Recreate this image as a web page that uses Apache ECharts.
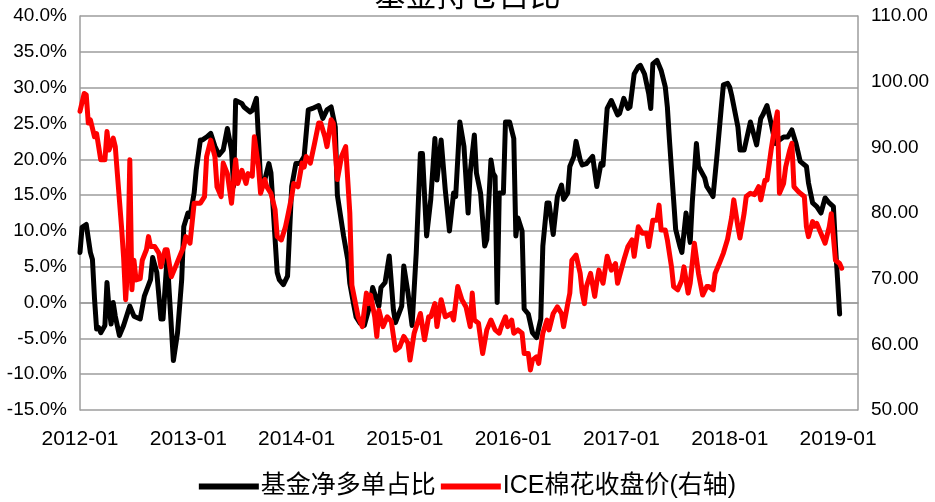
<!DOCTYPE html>
<html>
<head>
<meta charset="utf-8">
<title>基金持仓占比</title>
<script src="https://cdn.jsdelivr.net/npm/echarts@6/dist/echarts.min.js"></script>
<style>
  html, body { margin: 0; padding: 0; background: #ffffff; }
  #chart { width: 935px; height: 502px; }
</style>
</head>
<body>
<div id="chart"></div>
<script>
// Weekly observations, indexed by weeks elapsed since 2012-01-01.
const netLongWeeks = [0,1,3,5,6,7,8,9,10,12,13,14,15,16,17,19,21,24,26,29,31,34,35,37,39,40,42,43,45,47,49,50,52,53,55,56,58,59,61,63,65,67,69,71,73,74,75,78,79,82,83,85,87,89,91,92,95,96,98,100,102,104,106,108,110,112,115,117,119,121,123,124,127,129,130,132,133,135,137,140,141,144,145,147,149,151,152,155,156,158,160,162,164,165,167,169,171,172,174,176,178,180,181,183,185,187,188,190,191,193,195,196,198,199,200,201,202,204,205,207,209,210,211,213,214,216,218,220,222,223,225,226,228,230,232,233,235,236,238,239,241,242,244,247,249,251,252,254,256,259,260,262,264,265,267,269,270,272,274,275,276,278,280,282,283,284,286,287,289,290,292,294,295,297,298,301,302,304,305,307,309,310,312,313,314,317,318,320,323,325,326,328,329,331,333,335,336,339,341,343,345,347,350,351,353,355,357,359,361,363,364,365,366];
// Fund net-long share, in percent.
const netLongShare = [7.0,10.5,10.9,7.0,6.0,0.5,-3.7,-3.5,-4.2,-3.2,2.8,-0.9,-3.0,0.0,-1.9,-4.6,-3.2,-0.5,-1.9,-2.3,0.9,3.2,6.3,4.2,-2.3,-2.3,6.5,1.4,-8.1,-4.2,3.2,10.6,12.5,12.0,15.3,18.5,22.7,22.7,23.1,23.6,21.8,20.6,21.3,24.3,21.3,16.2,28.2,27.8,27.3,26.6,26.8,28.5,17.1,17.1,19.4,18.1,4.2,3.2,2.5,3.7,16.2,19.4,19.4,20.4,26.9,27.1,27.5,25.7,26.9,27.3,24.5,15.0,9.3,6.0,2.7,-0.5,-2.0,-2.9,-3.2,0.0,2.1,-0.5,2.1,2.8,6.5,-1.0,-2.8,-0.5,5.1,1.4,-3.2,6.9,20.8,20.8,9.3,14.4,22.9,17.1,22.7,15.7,10.0,15.3,14.8,25.2,21.8,12.5,18.1,23.4,18.1,15.3,7.9,8.8,19.9,18.1,17.6,0.0,15.3,15.3,25.2,25.2,22.9,9.3,11.8,10.0,-0.9,-1.6,-4.2,-4.9,-2.3,7.9,13.9,13.9,9.5,14.8,16.4,14.4,15.3,19.0,20.4,22.5,19.9,19.2,19.4,20.4,16.2,19.4,19.2,27.1,28.2,26.2,26.4,28.5,27.1,27.3,31.9,32.9,33.1,31.9,29.2,27.1,33.3,33.8,32.4,30.1,27.3,22.7,14.4,10.2,7.9,7.0,12.5,8.4,14.0,22.2,19.0,17.4,16.2,15.3,14.8,20.8,27.3,30.4,30.6,30.1,28.9,24.5,21.3,21.3,25.2,23.1,22.0,25.7,26.2,27.5,25.0,22.2,22.5,23.1,23.1,24.1,22.2,19.7,19.0,16.7,13.9,13.4,12.5,14.6,13.9,13.4,7.9,3.2,-1.6];

const cottonWeeks = [0,2,3,4,5,7,8,10,12,13,14,16,17,18,20,21,22,23,24,25,26,27,29,30,32,33,34,36,38,39,41,42,44,46,47,50,51,53,55,58,60,61,63,65,66,68,69,71,73,75,76,78,80,81,83,84,86,87,89,90,92,94,95,97,99,100,102,103,105,107,108,109,111,113,115,116,118,119,121,122,124,126,128,130,131,134,136,138,139,140,142,143,144,146,148,150,152,154,156,158,159,161,164,166,168,169,171,172,174,176,179,180,182,184,186,188,189,190,192,194,196,198,200,202,203,205,206,208,209,211,213,214,216,217,218,220,221,223,225,226,228,230,232,233,235,236,237,239,241,242,243,244,246,248,249,250,252,254,256,258,259,262,264,266,267,269,271,273,274,276,278,279,280,282,283,285,286,288,290,291,293,294,296,298,300,302,303,305,306,308,310,312,314,315,317,318,320,321,323,325,327,328,330,331,333,335,336,337,339,340,342,343,344,346,347,349,350,351,353,354,355,357,359,361,362,364,366,367];
// ICE cotton settlement price (right axis).
const cottonClose = [95.5,98.2,98.0,93.7,94.2,91.6,92.1,88.1,88.1,92.4,89.6,91.4,90.1,86.0,77.9,73.3,66.8,71.8,88.1,68.3,72.8,69.8,70.0,72.8,74.4,76.4,74.9,74.9,73.9,71.8,74.4,74.4,70.3,71.8,72.6,74.9,76.4,75.4,81.5,81.5,82.5,88.6,91.1,88.6,84.0,82.5,87.6,86.0,81.5,88.1,84.5,86.5,84.5,86.0,85.6,91.6,87.0,83.0,85.1,84.0,83.0,80.5,76.4,75.9,77.9,79.4,82.5,84.5,84.0,87.6,87.0,88.6,87.6,90.6,93.7,93.7,91.6,90.1,94.2,93.7,85.1,88.6,90.1,80.0,69.0,64.2,62.7,67.8,66.2,67.5,64.2,61.2,65.2,62.7,64.2,63.5,59.1,59.6,61.2,60.2,57.6,61.7,64.7,60.7,64.2,64.2,66.2,62.7,66.8,64.2,64.7,63.7,68.8,66.8,65.7,62.7,67.8,63.7,63.2,58.6,62.2,63.7,62.2,61.7,62.7,64.2,62.7,63.7,61.7,62.2,61.7,58.6,58.6,56.1,57.6,58.1,57.1,61.7,63.7,62.2,64.7,65.7,64.7,62.7,66.2,67.8,72.8,73.6,70.8,67.8,66.2,68.8,70.8,67.3,69.5,71.3,69.3,73.4,71.3,72.3,69.3,72.8,74.9,75.9,73.4,77.9,76.9,76.9,74.9,78.9,78.9,81.2,77.4,77.4,75.9,71.8,68.8,68.3,69.8,71.8,67.8,69.3,75.4,70.8,67.5,68.8,68.8,68.3,70.8,72.3,73.9,76.0,79.4,82.0,77.9,76.2,80.0,82.5,83.0,82.8,84.0,82.0,85.0,85.0,89.6,93.7,95.4,83.0,84.5,87.0,89.6,90.6,84.0,83.3,83.0,82.5,77.9,76.4,78.7,78.0,78.4,76.9,75.4,77.9,79.9,72.8,72.3,71.6];

const seriesNames = ['基金净多单占比', 'ICE棉花收盘价(右轴)'];
const startYear = 2012;

// Convert a week offset into a fractional year so year ticks sit on integers.
const toYear = w => startYear + w * 7 / 365.25;
const pairs = (weeks, vals) => weeks.map((w, i) => [toYear(w), vals[i]]);

const latin = "'Liberation Sans Narrow', 'Liberation Sans', 'Noto Sans CJK SC', sans-serif";
const gridGray = '#9c9c9c';

const chart = echarts.init(document.getElementById('chart'), null, { renderer: 'canvas' });
chart.setOption({
  animation: false,
  backgroundColor: '#ffffff',
  title: {
    text: '基金持仓占比',
    left: 'center',
    top: -26,
    textStyle: { fontFamily: "'Noto Sans CJK SC', sans-serif", fontSize: 31, fontWeight: 'normal', color: '#000' }
  },
  grid: { left: 80, right: 77, top: 16, bottom: 92, containLabel: false },
  legend: {
    data: seriesNames,
    bottom: -2,
    left: 'center',
    icon: 'rect',
    itemWidth: 60,
    itemHeight: 6,
    itemGap: 5,
    textStyle: { fontFamily: latin, fontSize: 25, color: '#000', padding: [0, 0, 0, -3] }
  },
  xAxis: {
    type: 'value',
    min: startYear,
    max: 2019.184,
    interval: 1,
    axisLine: { show: true, lineStyle: { color: gridGray, width: 1.5 } },
    axisTick: { show: false },
    splitLine: { show: false },
    axisLabel: {
      margin: 19,
      fontFamily: latin,
      fontSize: 21,
      color: '#000',
      showMaxLabel: false,
      formatter: v => Number.isInteger(v) ? v + '-01' : ''
    }
  },
  yAxis: [
    {
      type: 'value',
      min: -15,
      max: 40,
      interval: 5,
      axisLine: { show: true, lineStyle: { color: gridGray, width: 1.5 } },
      axisTick: { show: false },
      splitLine: { show: true, lineStyle: { color: gridGray, width: 1.5 } },
      axisLabel: { margin: 13, fontFamily: latin, fontSize: 19, color: '#000', formatter: v => v.toFixed(1) + '%' }
    },
    {
      type: 'value',
      min: 50,
      max: 110,
      interval: 10,
      position: 'right',
      axisLine: { show: true, lineStyle: { color: gridGray, width: 1.5 } },
      axisTick: { show: false },
      splitLine: { show: false },
      axisLabel: { margin: 13, fontFamily: latin, fontSize: 19, color: '#000', formatter: v => v.toFixed(2) }
    }
  ],
  series: [
    {
      name: seriesNames[0],
      type: 'line',
      yAxisIndex: 0,
      data: pairs(netLongWeeks, netLongShare),
      showSymbol: false,
      symbol: 'none',
      lineStyle: { color: '#000000', width: 5, cap: 'round', join: 'round' },
      itemStyle: { color: '#000000' },
      z: 2
    },
    {
      name: seriesNames[1],
      type: 'line',
      yAxisIndex: 1,
      data: pairs(cottonWeeks, cottonClose),
      showSymbol: false,
      symbol: 'none',
      lineStyle: { color: '#ff0000', width: 5, cap: 'round', join: 'round' },
      itemStyle: { color: '#ff0000' },
      z: 3
    }
  ]
});
</script>
</body>
</html>
